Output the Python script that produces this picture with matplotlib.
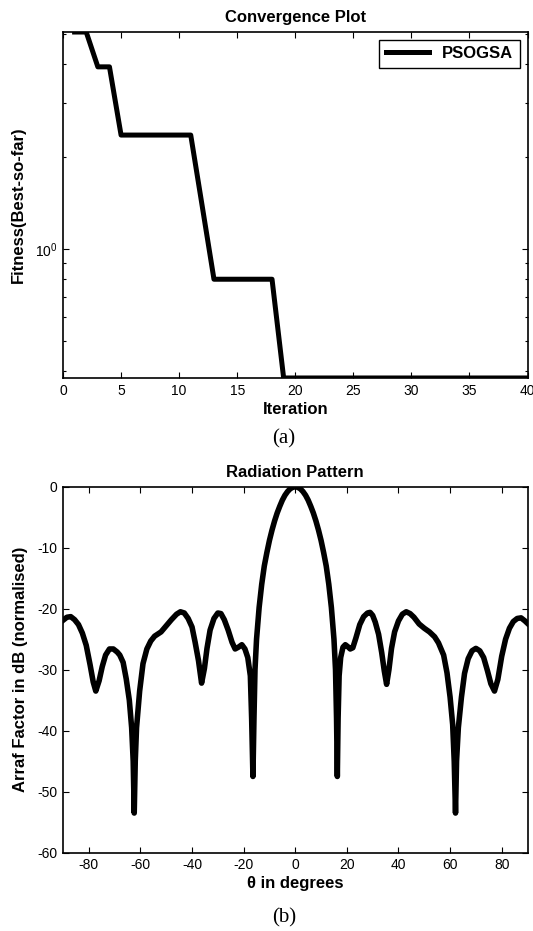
import matplotlib
matplotlib.use("Agg")
import matplotlib.pyplot as plt
import numpy as np
from matplotlib.ticker import NullFormatter, MultipleLocator

plt.rcParams['font.family'] = ['Liberation Sans', 'DejaVu Sans']
plt.rcParams['axes.unicode_minus'] = False

# convergence of best fitness per iteration
iteration = np.arange(1, 41)
fitness = ([5.09, 5.09, 3.92, 3.92, 2.35, 2.35, 2.35, 2.35, 2.35, 2.35, 2.35,
            1.37, 0.797, 0.797, 0.797, 0.797, 0.797, 0.797] + [0.38] * 22)

# radiation pattern (normalised array factor, dB)
theta_deg = [-90, -88.5, -87, -85.5, -84, -82.5, -81, -79.5, -78.3, -77.3,
             -76, -74.8, -73.5, -72, -70.5, -69, -68, -66.7, -65.5, -64.3,
             -63.4, -62.8, -62.4, -62.0, -61.5, -60.3, -59, -57.5, -56, -54.5,
             -52, -50, -48, -46, -44.5, -43, -41.5, -40, -38.8, -37.5,
             -36.3, -35.2, -34.2, -33, -31.5, -30, -28.8, -27.5, -26, -24.5,
             -23.3, -22, -20.7, -19.5, -18.4, -17.4, -16.9, -16.4, -16.0, -15.6,
             -15, -14, -13, -12, -11, -10, -9, -8, -7, -6,
             -5, -4, -3, -2, -1, 0, 1, 2, 3, 4,
             5, 6, 7, 8, 9, 10, 11, 12, 13, 14,
             15, 15.6, 16.0, 16.3, 16.6, 17.0, 17.6, 18.5, 19.4, 20.3,
             21.3, 22.3, 23.5, 25, 26.5, 28, 29, 30, 31, 32.3,
             33.5, 34.5, 35.4, 36.3, 37.3, 38.5, 40, 41.5, 43, 44.5,
             46, 48, 50, 52, 54, 55.5, 57.5, 58.8, 60, 61.0,
             61.6, 62.1, 62.5, 63.2, 64.4, 65.6, 67, 68.5, 70, 71.5,
             73, 74.5, 75.8, 77.2, 78.5, 80, 81.5, 83, 84.5, 86,
             87.5, 89, 90]
gain_db = [-21.9, -21.4, -21.3, -21.8, -22.6, -24.0, -26.0, -29.2, -32.0, -33.5,
           -31.8, -29.5, -27.6, -26.6, -26.6, -27.1, -27.6, -28.8, -31.5, -35.0,
           -39.5, -45.0, -53.5, -45.0, -39.5, -33.5, -29.0, -26.6, -25.3, -24.5,
           -23.8, -22.8, -21.8, -20.9, -20.5, -20.7, -21.6, -23.0, -25.5, -28.5,
           -32.2, -29.8, -26.5, -23.5, -21.6, -20.7, -20.8, -21.8, -23.5, -25.5,
           -26.6, -26.3, -25.9, -26.6, -28.0, -31.0, -38.0, -47.5, -38.0, -30.0,
           -25.0, -19.8, -16.0, -13.0, -10.8, -8.8, -7.1, -5.6, -4.3, -3.2,
           -2.2, -1.4, -0.8, -0.35, -0.1, 0.0, -0.1, -0.35, -0.8, -1.4,
           -2.2, -3.2, -4.3, -5.6, -7.1, -8.8, -10.8, -13.0, -16.0, -19.8,
           -25.0, -30.0, -38.0, -47.5, -38.0, -31.0, -28.0, -26.3, -25.9, -26.2,
           -26.6, -26.4, -24.8, -22.6, -21.3, -20.7, -20.6, -21.1, -22.2, -24.2,
           -27.2, -30.2, -32.4, -30.0, -26.5, -23.8, -22.0, -20.9, -20.5, -20.8,
           -21.4, -22.5, -23.2, -23.8, -24.6, -25.6, -27.6, -30.5, -34.5, -39.0,
           -45.0, -53.5, -45.0, -39.5, -34.5, -30.6, -28.2, -26.9, -26.5, -26.9,
           -28.0, -30.2, -32.3, -33.5, -31.6, -27.8, -25.0, -23.2, -22.1, -21.6,
           -21.5, -22.0, -22.4]

fig = plt.figure(figsize=(5.33, 9.31), dpi=100)

# (a) convergence plot
ax1 = fig.add_axes([0.1182, 0.594, 0.8715, 0.3716])
ax1.semilogy(iteration, fitness, color='k', lw=3.6, label='PSOGSA',
             solid_joinstyle='round')
ax1.set_xlim(0, 40)
ax1.set_ylim(min(fitness), max(fitness))
ax1.xaxis.set_major_locator(MultipleLocator(5))
ax1.yaxis.set_minor_formatter(NullFormatter())
ax1.set_title('Convergence Plot', fontsize=12, fontweight='bold', pad=7)
ax1.set_xlabel('Iteration', fontsize=12, fontweight='bold')
ax1.set_ylabel('Fitness(Best-so-far)', fontsize=12, fontweight='bold')
ax1.xaxis.set_label_coords(0.5, -0.069)
ax1.yaxis.set_label_coords(-0.081, 0.5)
leg = ax1.legend(loc='upper right', fancybox=False, edgecolor='k',
                 prop={'weight': 'bold', 'size': 12}, handlelength=2.6,
                 borderaxespad=0.45, framealpha=1)
leg.get_frame().set_linewidth(1.0)

# (b) radiation pattern
ax2 = fig.add_axes([0.1182, 0.0841, 0.8715, 0.3931])
ax2.plot(theta_deg, gain_db, color='k', lw=4, solid_joinstyle='round')
ax2.set_xlim(-90, 90)
ax2.set_ylim(-60, 0)
ax2.set_xticks(np.arange(-80, 81, 20))
ax2.set_yticks(np.arange(-60, 1, 10))
ax2.set_title('Radiation Pattern', fontsize=12, fontweight='bold', pad=7)
ax2.set_xlabel('θ in degrees', fontsize=12, fontweight='bold')
ax2.set_ylabel('Arraf Factor in dB (normalised)', fontsize=12, fontweight='bold')
ax2.xaxis.set_label_coords(0.5, -0.064)
ax2.yaxis.set_label_coords(-0.075, 0.5)

for ax in (ax1, ax2):
    ax.tick_params(which='both', direction='in', top=True, right=True,
                   labelsize=10, width=0.8)
    ax.tick_params(which='major', length=4, pad=4)
    ax.tick_params(which='minor', length=2.5)
    for s in ax.spines.values():
        s.set_linewidth(1.2)

fig.text(0.533, 1 - 439 / 931, '(a)', ha='center', va='center',
         fontsize=15, family='Liberation Serif')
fig.text(0.533, 1 - 918 / 931, '(b)', ha='center', va='center',
         fontsize=15, family='Liberation Serif')

fig.savefig('out.png', dpi=100)
